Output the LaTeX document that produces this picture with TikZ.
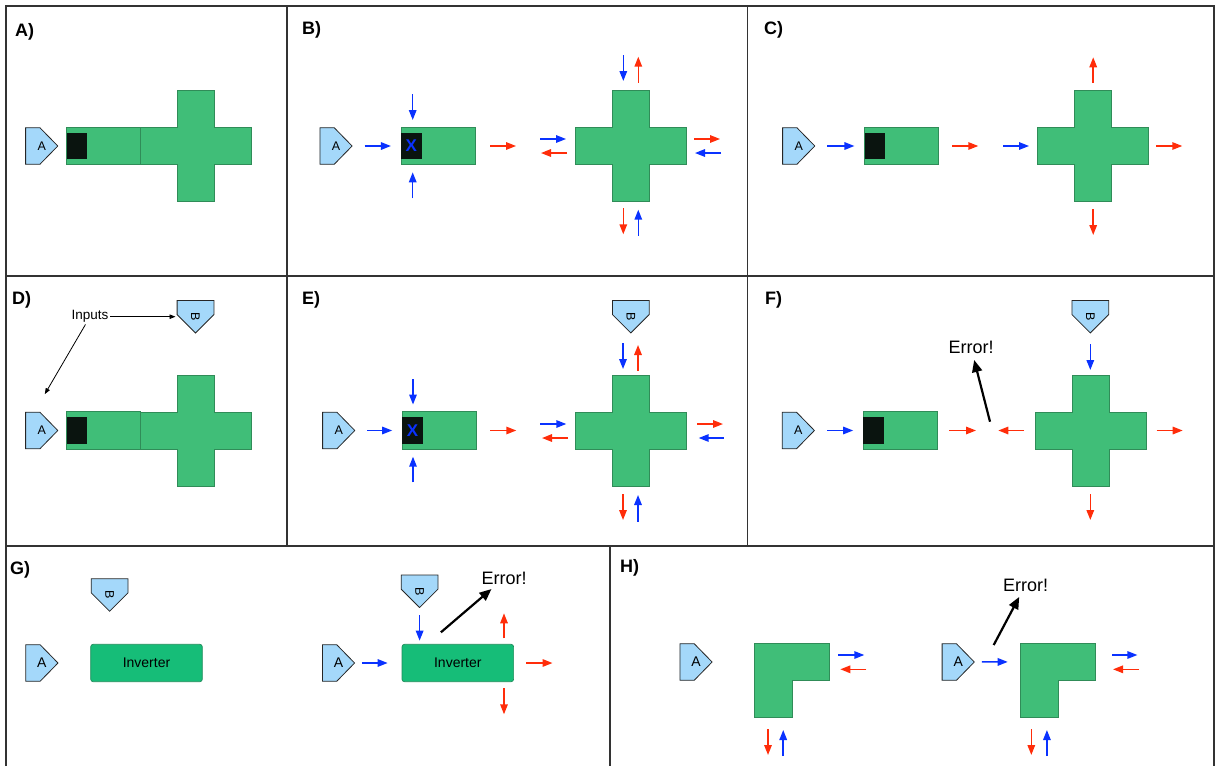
\documentclass[tikz,border=0pt]{standalone}
\usepackage{fontspec}
\setmainfont{Liberation Sans}
\usepackage{tikz}
\usetikzlibrary{arrows.meta}

\definecolor{cellgreen}{RGB}{64,190,120}
\definecolor{celledge}{RGB}{48,140,88}
\definecolor{invgreen}{RGB}{22,189,120}
\definecolor{invedge}{RGB}{30,140,90}
\definecolor{portblue}{RGB}{164,216,250}
\definecolor{sigblue}{RGB}{10,50,255}
\definecolor{sigred}{RGB}{255,45,10}
\definecolor{gateblack}{RGB}{10,20,15}

\tikzset{
  cellfill/.style={draw=celledge,fill=cellgreen,line width=0.7pt},
  portline/.style={draw=black!85,fill=portblue,line width=0.8pt},
  plus/.pic={\draw[cellfill] (-18.5,-55.5) -- (18.5,-55.5) -- (18.5,-18.5) -- (55.5,-18.5)
      -- (55.5,18.5) -- (18.5,18.5) -- (18.5,55.5) -- (-18.5,55.5) -- (-18.5,18.5)
      -- (-55.5,18.5) -- (-55.5,-18.5) -- (-18.5,-18.5) -- cycle;},
  ell/.pic={\draw[cellfill] (-37.5,-37.2) -- (37.5,-37.2) -- (37.5,0) -- (0,0) -- (0,37.2)
      -- (-37.5,37.2) -- cycle;
      \coordinate (-w) at (-37.5,-18.6);}
}

\begin{document}
\begin{tikzpicture}[x=1pt,y=-1pt,>={Triangle[length=10pt,width=7.5pt]},
    frame/.style={draw=black!80,line width=1.2pt},
    panel/.style={anchor=base west,inner sep=0pt,font=\fontsize{18}{20}\selectfont\bfseries},
    % port pointing right (A)
    inport/.style={minimum width=33pt,minimum height=37.4pt,inner sep=0pt,
      font=\fontsize{12.5}{14}\selectfont,
      path picture={\draw[portline]
        ([shift={(0.4,0.4)}]path picture bounding box.north west)
        -- ([shift={(-18.3,0.4)}]path picture bounding box.north east)
        -- ([xshift=-0.4pt]path picture bounding box.east)
        -- ([shift={(-18.3,-0.4)}]path picture bounding box.south east)
        -- ([shift={(0.4,-0.4)}]path picture bounding box.south west) -- cycle;}},
    % port pointing down (B)
    inportB/.style={minimum width=37.6pt,minimum height=33.3pt,inner sep=0pt,
      font=\fontsize{12.5}{14}\selectfont,
      path picture={\draw[portline]
        ([shift={(0.4,0.4)}]path picture bounding box.north west)
        -- ([shift={(-0.4,0.4)}]path picture bounding box.north east)
        -- ([shift={(-0.4,14.5)}]path picture bounding box.north east)
        -- ([yshift=0.4pt]path picture bounding box.south)
        -- ([shift={(0.4,14.5)}]path picture bounding box.north west) -- cycle;}},
    big/.style={font=\fontsize{14}{16}\selectfont},
    cellbar/.style={cellfill,minimum width=74pt,minimum height=37.4pt,inner sep=0pt},
    gate/.style={fill=gateblack,minimum width=20.5pt,minimum height=26.7pt,inner sep=0pt,anchor=west},
    gatex/.style={text=sigblue,font=\fontsize{17}{17}\selectfont\bfseries},
    inverter/.style={draw=invedge,fill=invgreen,rounded corners=2.5pt,line width=0.7pt,
      minimum width=111.6pt,minimum height=37.4pt,inner sep=0pt,font=\fontsize{14}{16}\selectfont},
    errtext/.style={inner sep=1pt,font=\fontsize{18}{20}\selectfont},
    notetext/.style={inner sep=1.5pt,font=\fontsize{13.5}{15}\selectfont},
    sb/.style={->,color=sigblue,line width=1.5pt},
    sr/.style={->,color=sigred,line width=1.5pt},
    feed/.style={sb,shorten <=12pt,shorten >=10pt},
    errarrow/.style={-{Triangle[length=12pt,width=10pt]},line width=2.2pt,shorten >=5pt},
    callout/.style={-{Triangle[length=6pt,width=4.5pt]},line width=0.8pt,shorten >=1pt}]

  \useasboundingbox (0,0) rectangle (1217,766);

  % panel frame
  \draw[frame] (6,766) -- (6,6) -- (1214,6) -- (1214,766);
  \draw[frame] (6,276) -- (1214,276) (6,546) -- (1214,546);
  \draw[frame] (287,6) -- (287,546) (747.5,6) -- (747.5,546) (610,546) -- (610,766);

  % A
  \node[panel] (tA) at (15,36) {A)};
  \node[inport] (aA) at (41.7,146) {A};
  \node[cellbar] (barA) at (103.7,146) {};
  \node[gate] (gA) at (barA.west) {};
  \pic (plusA) at (196.2,146) {plus};

  % B
  \node[panel] (tB) at (302,34) {B)};
  \node[inport] (aB) at (336,146) {A};
  \node[cellbar] (barB) at (438.3,146) {};
  \node[gate,gatex] (gB) at (barB.west) {X};
  \pic (plusB) at (630.8,146) {plus};
  \draw[feed] (aB) -- (barB);
  \draw[sb] (412.7,94.3) -- ++(0,25.7);
  \draw[sb] (412.7,198.3) -- ++(0,-26);
  \draw[sr] (490,146) -- ++(26,0);
  \draw[sb] (540,139) -- ++(26,0);
  \draw[sr] (567,153) -- ++(-26,0);
  \draw[sb] (623.3,55) -- ++(0,26);
  \draw[sr] (638.3,82.7) -- ++(0,-26);
  \draw[sr] (694,139) -- ++(26,0);
  \draw[sb] (721,153) -- ++(-26,0);
  \draw[sr] (623.3,208.3) -- ++(0,26);
  \draw[sb] (638.3,235.7) -- ++(0,-26);

  % C
  \node[panel] (tC) at (764,34) {C)};
  \node[inport] (aC) at (798.7,146) {A};
  \node[cellbar] (barC) at (901.8,146) {};
  \node[gate] (gC) at (barC.west) {};
  \pic (plusC) at (1093.2,146) {plus};
  \draw[feed] (aC) -- (barC);
  \draw[sr] (952.3,146) -- ++(26,0);
  \draw[sb] (1003.3,146) -- ++(25.7,0);
  \draw[sr] (1093.2,82.7) -- ++(0,-25.4);
  \draw[sr] (1156,146) -- ++(26.3,0);
  \draw[sr] (1093.2,209.3) -- ++(0,25.7);

  % D
  \node[panel] (tD) at (12,304) {D)};
  \node[inport] (aD) at (41.7,430.5) {A};
  \node[cellbar] (barD) at (103.7,430.5) {};
  \node[gate] (gD) at (barD.west) {};
  \pic (plusD) at (196.2,430.5) {plus};
  \node[inportB] (bD) at (195.5,316.7) {\rotatebox{-90}{B}};
  \node[notetext] (inpD) at (90,316.7) {Inputs};
  \coordinate (hintD) at (44.3,395);
  \draw[callout] (inpD) -- (bD);
  \draw[callout] (inpD) -- (hintD);

  % E
  \node[panel] (tE) at (302,304) {E)};
  \node[inport] (aE) at (338.7,430.5) {A};
  \node[cellbar] (barE) at (439.5,430.5) {};
  \node[gate,gatex] (gE) at (barE.west) {X};
  \pic (plusE) at (630.8,430.5) {plus};
  \node[inportB] (bE) at (630.8,316.7) {\rotatebox{-90}{B}};
  \draw[feed] (aE) -- (barE);
  \draw[sb] (413,379) -- ++(0,25.5);
  \draw[sb] (413,482.3) -- ++(0,-25.6);
  \draw[sr] (490.3,430.5) -- ++(26,0);
  \draw[sb] (540.3,424) -- ++(26,0);
  \draw[sr] (568,438) -- ++(-26,0);
  \draw[sb] (623,343.3) -- ++(0,25.7);
  \draw[sr] (638,370.7) -- ++(0,-25.7);
  \draw[sr] (697,424) -- ++(26,0);
  \draw[sb] (723.7,438) -- ++(-25,0);
  \draw[sr] (623,494) -- ++(0,26);
  \draw[sb] (638,521.7) -- ++(0,-26.7);

  % F
  \node[panel] (tF) at (765,304) {F)};
  \node[inport] (aF) at (798.3,430.5) {A};
  \node[cellbar] (barF) at (900.5,430.5) {};
  \node[gate] (gF) at (barF.west) {};
  \pic (plusF) at (1090.5,430.5) {plus};
  \node[inportB] (bF) at (1090.3,316.7) {\rotatebox{-90}{B}};
  \node[errtext] (errF) at (971,347.7) {Error!};
  \coordinate (clashF) at (990,421.7);
  \draw[feed] (aF) -- (barF);
  \draw[errarrow] (clashF) -- (errF);
  \draw[sr] (949.3,430.5) -- ++(26.7,0);
  \draw[sr] (1024,430.5) -- ++(-25.7,0);
  \draw[sb] (1090.3,344.3) -- ++(0,25.7);
  \draw[sr] (1156.7,430.5) -- ++(26,0);
  \draw[sr] (1090.3,494) -- ++(0,26);

  % G
  \node[panel] (tG) at (10,574) {G)};
  \node[inport,big] (aG1) at (41.9,663) {A};
  \node[inportB] (bG1) at (109.6,595) {\rotatebox{-90}{B}};
  \node[inverter] (invG1) at (146.5,663) {Inverter};
  \node[inport,big] (aG2) at (338.5,663) {A};
  \node[inverter] (invG2) at (457.8,663) {Inverter};
  \node[inportB] (bG2) at (419.6,591.3) {\rotatebox{-90}{B}};
  \node[errtext] (errG) at (504,578.3) {Error!};
  \coordinate (clashG) at (440.9,632.3);
  \draw[feed,shorten <=6.6pt,shorten >=14pt] (aG2) -- (invG2);
  \draw[errarrow] (clashG) -- (errG);
  \draw[sb] (419.6,615) -- ++(0,25.7);
  \draw[sr] (504,638.3) -- ++(0,-25);
  \draw[sr] (526,663) -- ++(26.5,0);
  \draw[sr] (504,688.3) -- ++(0,26);

  % H
  \node[panel] (tH) at (620,572) {H)};
  \node[inport,big] (aH1) at (696,662) {A};
  \pic (ellH1) at (792.2,680.5) {ell};
  \draw[sb] (838.3,655) -- ++(26,0);
  \draw[sr] (866.3,669.3) -- ++(-26,0);
  \draw[sr] (768,729) -- ++(0,26);
  \draw[sb] (783.2,756) -- ++(0,-26);
  \node[inport,big] (aH2) at (958.2,662) {A};
  \pic (ellH2) at (1058.2,680.5) {ell};
  \node[errtext] (errH) at (1025.5,585) {Error!};
  \coordinate (clashH) at (993.7,645);
  \draw[feed,shorten <=7pt,shorten >=13pt] (aH2) -- (ellH2-w);
  \draw[errarrow] (clashH) -- (errH);
  \draw[sb] (1112,655) -- ++(25.4,0);
  \draw[sr] (1139,669.3) -- ++(-26,0);
  \draw[sr] (1031.3,729) -- ++(0,26);
  \draw[sb] (1046.9,756) -- ++(0,-26);
\end{tikzpicture}
\end{document}
